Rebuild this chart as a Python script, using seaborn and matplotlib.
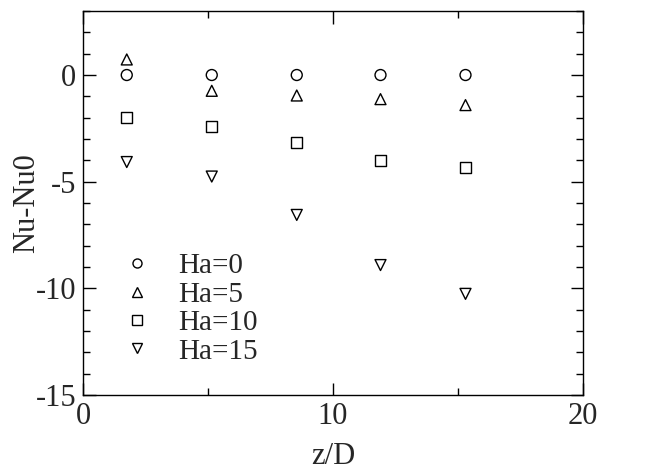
import numpy as np
import pandas as pd
import matplotlib
matplotlib.use("Agg")
import matplotlib.pyplot as plt
import seaborn as sns
from matplotlib.ticker import MultipleLocator
from matplotlib.lines import Line2D

# Axial positions (z/D) of the measurement stations
z_over_d = [1.75, 5.15, 8.55, 11.9, 15.3]

# Nusselt-number deviation Nu - Nu0 for each Hartmann number
nu_ha0 = [0.0, 0.0, 0.0, 0.0, 0.0]
nu_ha5 = [0.73, -0.74, -0.96, -1.13, -1.41]
nu_ha10 = [-1.99, -2.43, -3.15, -3.99, -4.34]
nu_ha15 = [-4.08, -4.76, -6.56, -8.91, -10.26]

series_labels = ["Ha=0", "Ha=5", "Ha=10", "Ha=15"]
series_values = [nu_ha0, nu_ha5, nu_ha10, nu_ha15]
series_markers = ["o", "^", "s", "v"]

sns.set_style("ticks")
plt.rcParams["font.family"] = ["Liberation Serif", "DejaVu Serif"]
plt.rcParams["axes.unicode_minus"] = False

fig = plt.figure(figsize=(6.49, 4.71), dpi=100)
ax = fig.add_axes([0.1279, 0.1614, 0.7704, 0.8152])

for label, vals, mk in zip(series_labels, series_values, series_markers):
    df = pd.DataFrame({"z/D": z_over_d, "Nu-Nu0": vals})
    sns.scatterplot(data=df, x="z/D", y="Nu-Nu0", marker=mk, s=62,
                    facecolors="none", edgecolor="black", linewidth=1.0,
                    label=label, ax=ax, legend=False)

# open symbols
for coll in ax.collections:
    coll.set_facecolor("none")
    coll.set_edgecolor("black")

ax.set_xlim(0, 20)
ax.set_ylim(-15, 3)
ax.xaxis.set_major_locator(MultipleLocator(10))
ax.xaxis.set_minor_locator(MultipleLocator(5))
ax.yaxis.set_major_locator(MultipleLocator(5))
ax.yaxis.set_minor_locator(MultipleLocator(1))
ax.tick_params(which="both", direction="in", top=True, right=True,
               width=1.0, color="black", labelsize=22, pad=5)
ax.tick_params(which="major", length=9)
ax.tick_params(which="minor", length=5)
for sp in ax.spines.values():
    sp.set_linewidth(1.0)
    sp.set_color("black")

ax.set_xlabel("z/D", fontsize=22, labelpad=8)
ax.set_ylabel("Nu-Nu0", fontsize=22, labelpad=-4)

handles = [Line2D([], [], linestyle="none", marker=mk, markersize=6.5,
                  markerfacecolor="none", markeredgecolor="black",
                  markeredgewidth=1.0)
           for mk in series_markers]
ax.legend(handles, series_labels, loc="upper left",
          bbox_to_anchor=(0.085, 0.37), frameon=False, fontsize=21,
          handlelength=0.8, handletextpad=1.0, labelspacing=0.07,
          borderpad=0, borderaxespad=0)

fig.savefig("out.png", dpi=100)
